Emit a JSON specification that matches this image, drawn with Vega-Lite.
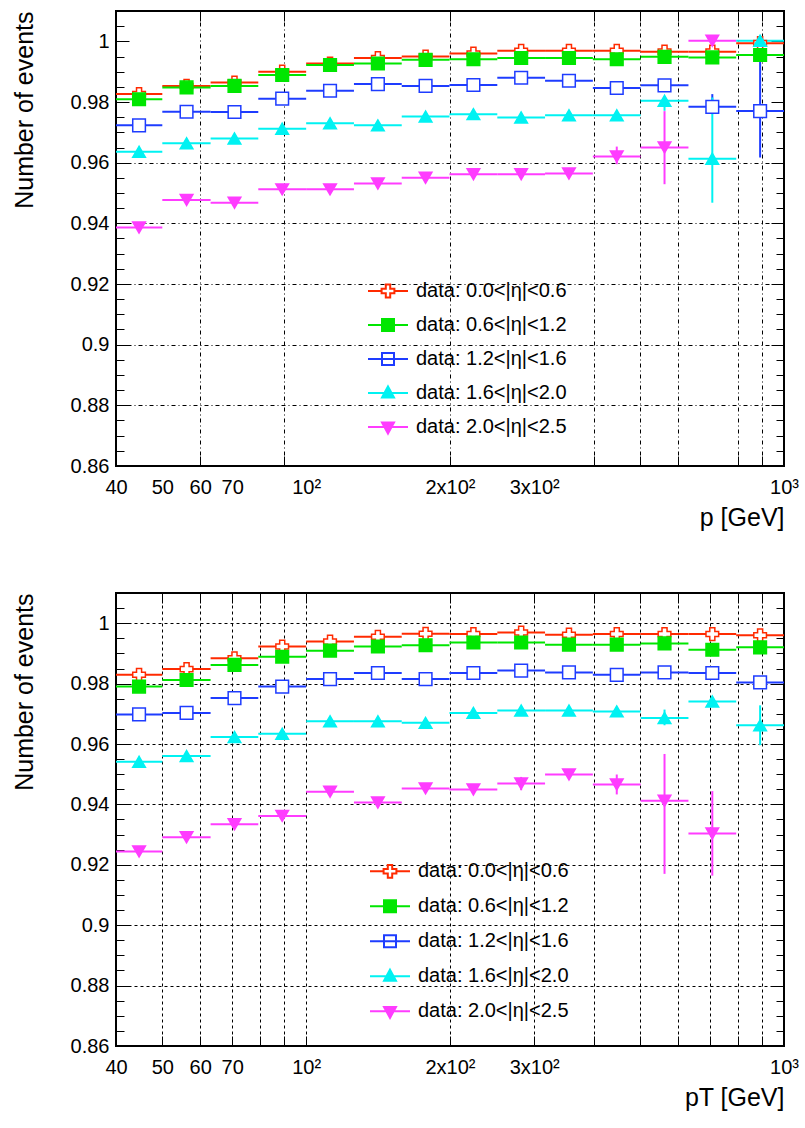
{
"$schema":"https://vega.github.io/schema/vega-lite/v6.json",
"background":"white",
"padding":{"left":11,"top":9,"right":5,"bottom":5},
"bounds":"flush",
"spacing":127,
"datasets":{
"top":[
{"x0":40,"x1":50,"x":44.7,"s1":0.9826,"s2":0.9809,"s3":0.9723,"s4":0.9636,"s5":0.9386},
{"x0":50,"x1":63.1,"x":56.2,"s1":0.9853,"s2":0.9848,"s3":0.9768,"s4":0.9664,"s5":0.9477},
{"x0":63.1,"x1":79.4,"x":70.8,"s1":0.9864,"s2":0.9853,"s3":0.9767,"s4":0.968,"s5":0.9468},
{"x0":79.4,"x1":100,"x":89.1,"s1":0.99,"s2":0.9889,"s3":0.9811,"s4":0.9712,"s5":0.9512},
{"x0":100,"x1":125.9,"x":112.2,"s1":0.9927,"s2":0.9922,"s3":0.9837,"s4":0.973,"s5":0.9512},
{"x0":125.9,"x1":158.5,"x":141.3,"s1":0.9945,"s2":0.9927,"s3":0.9859,"s4":0.9723,"s5":0.9531},
{"x0":158.5,"x1":199.5,"x":177.8,"s1":0.995,"s2":0.9939,"s3":0.9853,"s4":0.9752,"s5":0.955},
{"x0":199.5,"x1":251.2,"x":223.9,"s1":0.996,"s2":0.9941,"s3":0.9856,"s4":0.976,"s5":0.9562},
{"x0":251.2,"x1":316.2,"x":281.8,"s1":0.9969,"s2":0.9945,"s3":0.988,"s4":0.9749,"s5":0.9562},
{"x0":316.2,"x1":398.1,"x":354.8,"s1":0.9969,"s2":0.9945,"s3":0.987,"s4":0.9756,"s5":0.9564},
{"x0":398.1,"x1":501.2,"x":446.7,"s1":0.9969,"s2":0.9941,"s3":0.9846,"s4":0.9756,"s5":0.962},
{"x0":501.2,"x1":631,"x":562.3,"s1":0.9966,"s2":0.9949,"s3":0.9855,"s4":0.9804,"s5":0.965},
{"x0":631,"x1":794.3,"x":707.9,"s1":0.9966,"s2":0.9947,"s3":0.9784,"s4":0.9613,"s5":1.0002},
{"x0":794.3,"x1":1000,"x":891.3,"s1":0.9994,"s2":0.9955,"s3":0.977,"s4":1.0002,"s5":null}
],
"bot":[
{"x0":40,"x1":50,"x":44.7,"s1":0.9829,"s2":0.979,"s3":0.9698,"s4":0.9541,"s5":0.9244},
{"x0":50,"x1":63.1,"x":56.2,"s1":0.9848,"s2":0.9812,"s3":0.9703,"s4":0.956,"s5":0.9291},
{"x0":63.1,"x1":79.4,"x":70.8,"s1":0.9884,"s2":0.9862,"s3":0.9752,"s4":0.9623,"s5":0.9334},
{"x0":79.4,"x1":100,"x":89.1,"s1":0.9923,"s2":0.9889,"s3":0.979,"s4":0.9634,"s5":0.9362},
{"x0":100,"x1":125.9,"x":112.2,"s1":0.9939,"s2":0.9909,"s3":0.9815,"s4":0.9675,"s5":0.9442},
{"x0":125.9,"x1":158.5,"x":141.3,"s1":0.9955,"s2":0.9923,"s3":0.9835,"s4":0.9675,"s5":0.9406},
{"x0":158.5,"x1":199.5,"x":177.8,"s1":0.9965,"s2":0.9927,"s3":0.9815,"s4":0.967,"s5":0.9453},
{"x0":199.5,"x1":251.2,"x":223.9,"s1":0.9964,"s2":0.9936,"s3":0.9835,"s4":0.9703,"s5":0.9449},
{"x0":251.2,"x1":316.2,"x":281.8,"s1":0.9969,"s2":0.9936,"s3":0.9843,"s4":0.9711,"s5":0.9469},
{"x0":316.2,"x1":398.1,"x":354.8,"s1":0.9962,"s2":0.9929,"s3":0.9837,"s4":0.9711,"s5":0.9499},
{"x0":398.1,"x1":501.2,"x":446.7,"s1":0.9964,"s2":0.9929,"s3":0.9829,"s4":0.9708,"s5":0.9466},
{"x0":501.2,"x1":631,"x":562.3,"s1":0.9964,"s2":0.9933,"s3":0.9837,"s4":0.9686,"s5":0.9412},
{"x0":631,"x1":794.3,"x":707.9,"s1":0.9964,"s2":0.9912,"s3":0.9835,"s4":0.9741,"s5":0.9304},
{"x0":794.3,"x1":1000,"x":891.3,"s1":0.996,"s2":0.992,"s3":0.9804,"s4":0.9662,"s5":null}
],
"topErr":[
{"s":"s3","x":891.3,"lo":0.9617,"hi":0.9991},
{"s":"s3","x":707.9,"lo":0.976,"hi":0.9826},
{"s":"s4","x":707.9,"lo":0.9468,"hi":0.9815},
{"s":"s4","x":562.3,"lo":0.9771,"hi":0.9815},
{"s":"s4","x":891.3,"lo":0.998,"hi":1.0013},
{"s":"s5","x":562.3,"lo":0.9529,"hi":0.977},
{"s":"s5","x":446.7,"lo":0.9595,"hi":0.9653}
],
"botErr":[
{"s":"s5","x":281.8,"lo":0.9447,"hi":0.9491},
{"s":"s5","x":446.7,"lo":0.9433,"hi":0.9499},
{"s":"s5","x":562.3,"lo":0.917,"hi":0.9567},
{"s":"s5","x":707.9,"lo":0.9164,"hi":0.9444},
{"s":"s4","x":562.3,"lo":0.9662,"hi":0.9714},
{"s":"s4","x":891.3,"lo":0.9596,"hi":0.9728}
]
},
"vconcat":[
{
"width":668,"height":455,
"layer":[
{"data":{"name":"top"},
 "transform":[{"fold":["s1","s2","s3","s4","s5"],"as":["s","v"]},{"filter":"datum.v != null"}],
 "mark":{"type":"rule","strokeWidth":2},
 "encoding":{
  "x":{"field":"x0","type":"quantitative","scale":{"type":"log","domain":[40,1000],"nice":false},
   "axis":{"orient":"bottom","values":[40,50,60,70,80,90,100,200,300,400,500,600,700,800,900,1000],
    "labelExpr":"datum.value==40?'40':datum.value==50?'50':datum.value==60?'60':datum.value==70?'70':datum.value==100?'10²':datum.value==200?'2x10²':datum.value==300?'3x10²':datum.value==1000?'10³':''",
    "labelOverlap":false,"labelFlush":false,"tickSize":-10,"labelPadding":21,"tickColor":"black",
    "tickOpacity":{"condition":{"test":"indexof([60,90,200,400,500,600,800,900], datum.value) >= 0","value":1},"value":0},
    "grid":true,"gridColor":"black","gridDash":[4,3,1,3],"gridWidth":1,
    "gridOpacity":{"condition":{"test":"indexof([60,90,200,400,500,600,800,900], datum.value) >= 0","value":1},"value":0},
    "domain":false,"title":"p   [GeV]","titleAnchor":"end","titlePadding":8}},
  "x2":{"field":"x1"},
  "y":{"field":"v","type":"quantitative","scale":{"domain":[0.86,1.01],"nice":false,"zero":false},
   "axis":{"orient":"left","values":[0.86,0.865,0.87,0.875,0.88,0.885,0.89,0.895,0.9,0.905,0.91,0.915,0.92,0.925,0.93,0.935,0.94,0.945,0.95,0.955,0.96,0.965,0.97,0.975,0.98,0.985,0.99,0.995,1,1.005],
    "labelExpr":"abs(datum.value*50-round(datum.value*50))<0.01 ? format(datum.value,'.2~f') : ''",
    "tickSize":{"condition":{"test":"abs(datum.value*50-round(datum.value*50))<0.01","value":-13},"value":-8},
    "labelPadding":20,"tickColor":"black",
    "grid":true,"gridColor":"black","gridDash":[4,3,1,3],"gridWidth":1,
    "gridOpacity":{"condition":{"test":"datum.value>0.875 && datum.value<0.965 && abs(datum.value*50-round(datum.value*50))<0.01","value":1},"value":0},
    "domain":false,"title":"Number of events","titleAnchor":"end","titlePadding":33}},
  "color":{"field":"s","type":"nominal","scale":{"domain":["s1","s2","s3","s4","s5"],"range":["#ff2a00","#00e600","#1e3cff","#00f2f2","#ff3cff"]},"legend":null}
 }},
{"data":{"name":"topErr"},
 "mark":{"type":"rule","strokeWidth":2},
 "encoding":{
  "x":{"field":"x","type":"quantitative","axis":{"orient":"top","values":[40,50,60,70,80,90,100,200,300,400,500,600,700,800,900,1000],"labels":false,"tickSize":-10,"tickColor":"black",
    "tickOpacity":{"condition":{"test":"indexof([60,90,200,400,500,600,800,900], datum.value) >= 0","value":1},"value":0},"grid":false,"domain":false,"title":null}},
  "y":{"field":"lo","type":"quantitative","axis":{"orient":"right","values":[0.86,0.865,0.87,0.875,0.88,0.885,0.89,0.895,0.9,0.905,0.91,0.915,0.92,0.925,0.93,0.935,0.94,0.945,0.95,0.955,0.96,0.965,0.97,0.975,0.98,0.985,0.99,0.995,1,1.005],
    "labels":false,"tickColor":"black","tickSize":{"condition":{"test":"abs(datum.value*50-round(datum.value*50))<0.01","value":-13},"value":-8},"grid":false,"domain":false,"title":null}},
  "y2":{"field":"hi"},
  "color":{"field":"s","type":"nominal","scale":{"domain":["s1","s2","s3","s4","s5"],"range":["#ff2a00","#00e600","#1e3cff","#00f2f2","#ff3cff"]},"legend":null}
 }},
{"data":{"name":"top"},
 "transform":[{"fold":["s1","s2","s3","s4","s5"],"as":["s","v"]},{"filter":"datum.v != null"}],
 "mark":{"type":"point","filled":false,"strokeWidth":1.5,"size":160,"opacity":1},
 "encoding":{
  "x":{"field":"x","type":"quantitative","axis":null},
  "y":{"field":"v","type":"quantitative","axis":null},
  "color":{"field":"s","type":"nominal","scale":{"domain":["s1","s2","s3","s4","s5"],"range":["#ff2a00","#00e600","#1e3cff","#00f2f2","#ff3cff"]},"legend":null},
  "fill":{"field":"s","type":"nominal","scale":{"domain":["s1","s2","s3","s4","s5"],"range":["#ffffff","#00e600","#ffffff","#00f2f2","#ff3cff"]},"legend":null},
  "shape":{"field":"s","type":"nominal","scale":{"domain":["s1","s2","s3","s4","s5"],"range":["cross","square","square","triangle-up","triangle-down"]},"legend":null}
 }},
{"data":{"name":"top"},
 "transform":[{"fold":["s1","s2","s3","s4","s5"],"as":["s","v"]},{"filter":"datum.v != null"}],
 "mark":{"type":"point","filled":false,"strokeWidth":2,"opacity":0},
 "encoding":{
  "x":{"field":"x","type":"quantitative","axis":null},
  "y":{"field":"v","type":"quantitative","axis":null},
  "color":{"field":"s","type":"nominal","scale":{"domain":["s1","s2","s3","s4","s5"],"range":["#ff2a00","#00e600","#1e3cff","#00f2f2","#ff3cff"]},
   "legend":{"orient":"none","legendX":251,"legendY":263,"title":null,"symbolSize":1600,"symbolStrokeWidth":2,"symbolOpacity":1,"clipHeight":34,"rowPadding":0,"labelOffset":7,"padding":0,
    "labelExpr":"datum.label=='s1'?'data: 0.0<|η|<0.6':datum.label=='s2'?'data: 0.6<|η|<1.2':datum.label=='s3'?'data: 1.2<|η|<1.6':datum.label=='s4'?'data: 1.6<|η|<2.0':'data: 2.0<|η|<2.5'"}},
  "fill":{"field":"s","type":"nominal","scale":{"domain":["s1","s2","s3","s4","s5"],"range":["#ffffff","#00e600","#ffffff","#00f2f2","#ff3cff"]}},
  "shape":{"field":"s","type":"nominal","scale":{"domain":["s1","s2","s3","s4","s5"],"range":[
   "M-1,0H-0.32M0.32,0H1M-0.11,-0.32H0.11V-0.11H0.32V0.11H0.11V0.32H-0.11V0.11H-0.32V-0.11H-0.11Z",
   "M-1,0H1M-0.3,-0.3H0.3V0.3H-0.3Z",
   "M-1,0H1M-0.3,-0.3H0.3V0.3H-0.3Z",
   "M-1,0H1M0,-0.33L0.3,0.22H-0.3Z",
   "M-1,0H1M0,0.33L0.3,-0.22H-0.3Z"]}}
 }}
],
"resolve":{"axis":{"x":"independent","y":"independent"},"scale":{"color":"independent","fill":"independent","shape":"independent"}}
},
{
"width":668,"height":453,
"layer":[
{"data":{"name":"bot"},
 "transform":[{"fold":["s1","s2","s3","s4","s5"],"as":["s","v"]},{"filter":"datum.v != null"}],
 "mark":{"type":"rule","strokeWidth":2},
 "encoding":{
  "x":{"field":"x0","type":"quantitative","scale":{"type":"log","domain":[40,1000],"nice":false},
   "axis":{"orient":"bottom","values":[40,50,60,70,80,90,100,200,300,400,500,600,700,800,900,1000],
    "labelExpr":"datum.value==40?'40':datum.value==50?'50':datum.value==60?'60':datum.value==70?'70':datum.value==100?'10²':datum.value==200?'2x10²':datum.value==300?'3x10²':datum.value==1000?'10³':''",
    "labelOverlap":false,"labelFlush":false,"tickSize":-10,"labelPadding":21,"tickColor":"black",
    "grid":true,"gridColor":"black","gridDash":[3,3],"gridWidth":1,
    "gridOpacity":{"condition":{"test":"datum.value>40 && datum.value<1000","value":1},"value":0},
    "domain":false,"title":"pT [GeV]","titleAnchor":"end","titlePadding":8}},
  "x2":{"field":"x1"},
  "y":{"field":"v","type":"quantitative","scale":{"domain":[0.86,1.01],"nice":false,"zero":false},
   "axis":{"orient":"left","values":[0.86,0.865,0.87,0.875,0.88,0.885,0.89,0.895,0.9,0.905,0.91,0.915,0.92,0.925,0.93,0.935,0.94,0.945,0.95,0.955,0.96,0.965,0.97,0.975,0.98,0.985,0.99,0.995,1,1.005],
    "labelExpr":"abs(datum.value*50-round(datum.value*50))<0.01 ? format(datum.value,'.2~f') : ''",
    "tickSize":{"condition":{"test":"abs(datum.value*50-round(datum.value*50))<0.01","value":-13},"value":-8},
    "labelPadding":20,"tickColor":"black",
    "grid":true,"gridColor":"black","gridDash":[3,3],"gridWidth":1,
    "gridOpacity":{"condition":{"test":"datum.value>0.875 && datum.value<1.005 && abs(datum.value*50-round(datum.value*50))<0.01","value":1},"value":0},
    "domain":false,"title":"Number of events","titleAnchor":"end","titlePadding":33}},
  "color":{"field":"s","type":"nominal","scale":{"domain":["s1","s2","s3","s4","s5"],"range":["#ff2a00","#00e600","#1e3cff","#00f2f2","#ff3cff"]},"legend":null}
 }},
{"data":{"name":"botErr"},
 "mark":{"type":"rule","strokeWidth":2},
 "encoding":{
  "x":{"field":"x","type":"quantitative","axis":{"orient":"top","values":[40,50,60,70,80,90,100,200,300,400,500,600,700,800,900,1000],"labels":false,"tickSize":-10,"tickColor":"black","grid":false,"domain":false,"title":null}},
  "y":{"field":"lo","type":"quantitative","axis":{"orient":"right","values":[0.86,0.865,0.87,0.875,0.88,0.885,0.89,0.895,0.9,0.905,0.91,0.915,0.92,0.925,0.93,0.935,0.94,0.945,0.95,0.955,0.96,0.965,0.97,0.975,0.98,0.985,0.99,0.995,1,1.005],
    "labels":false,"tickColor":"black","tickSize":{"condition":{"test":"abs(datum.value*50-round(datum.value*50))<0.01","value":-13},"value":-8},"grid":false,"domain":false,"title":null}},
  "y2":{"field":"hi"},
  "color":{"field":"s","type":"nominal","scale":{"domain":["s1","s2","s3","s4","s5"],"range":["#ff2a00","#00e600","#1e3cff","#00f2f2","#ff3cff"]},"legend":null}
 }},
{"data":{"name":"bot"},
 "transform":[{"fold":["s1","s2","s3","s4","s5"],"as":["s","v"]},{"filter":"datum.v != null"}],
 "mark":{"type":"point","filled":false,"strokeWidth":1.5,"size":160,"opacity":1},
 "encoding":{
  "x":{"field":"x","type":"quantitative","axis":null},
  "y":{"field":"v","type":"quantitative","axis":null},
  "color":{"field":"s","type":"nominal","scale":{"domain":["s1","s2","s3","s4","s5"],"range":["#ff2a00","#00e600","#1e3cff","#00f2f2","#ff3cff"]},"legend":null},
  "fill":{"field":"s","type":"nominal","scale":{"domain":["s1","s2","s3","s4","s5"],"range":["#ffffff","#00e600","#ffffff","#00f2f2","#ff3cff"]},"legend":null},
  "shape":{"field":"s","type":"nominal","scale":{"domain":["s1","s2","s3","s4","s5"],"range":["cross","square","square","triangle-up","triangle-down"]},"legend":null}
 }},
{"data":{"name":"bot"},
 "transform":[{"fold":["s1","s2","s3","s4","s5"],"as":["s","v"]},{"filter":"datum.v != null"}],
 "mark":{"type":"point","filled":false,"strokeWidth":2,"opacity":0},
 "encoding":{
  "x":{"field":"x","type":"quantitative","axis":null},
  "y":{"field":"v","type":"quantitative","axis":null},
  "color":{"field":"s","type":"nominal","scale":{"domain":["s1","s2","s3","s4","s5"],"range":["#ff2a00","#00e600","#1e3cff","#00f2f2","#ff3cff"]},
   "legend":{"orient":"none","legendX":253,"legendY":261,"title":null,"symbolSize":1600,"symbolStrokeWidth":2,"symbolOpacity":1,"clipHeight":34.6,"rowPadding":0,"labelOffset":7,"padding":0,
    "labelExpr":"datum.label=='s1'?'data: 0.0<|η|<0.6':datum.label=='s2'?'data: 0.6<|η|<1.2':datum.label=='s3'?'data: 1.2<|η|<1.6':datum.label=='s4'?'data: 1.6<|η|<2.0':'data: 2.0<|η|<2.5'"}},
  "fill":{"field":"s","type":"nominal","scale":{"domain":["s1","s2","s3","s4","s5"],"range":["#ffffff","#00e600","#ffffff","#00f2f2","#ff3cff"]}},
  "shape":{"field":"s","type":"nominal","scale":{"domain":["s1","s2","s3","s4","s5"],"range":[
   "M-1,0H-0.32M0.32,0H1M-0.11,-0.32H0.11V-0.11H0.32V0.11H0.11V0.32H-0.11V0.11H-0.32V-0.11H-0.11Z",
   "M-1,0H1M-0.3,-0.3H0.3V0.3H-0.3Z",
   "M-1,0H1M-0.3,-0.3H0.3V0.3H-0.3Z",
   "M-1,0H1M0,-0.33L0.3,0.22H-0.3Z",
   "M-1,0H1M0,0.33L0.3,-0.22H-0.3Z"]}}
 }}
],
"resolve":{"axis":{"x":"independent","y":"independent"},"scale":{"color":"independent","fill":"independent","shape":"independent"}}
}
],
"config":{
 "view":{"stroke":"black","strokeWidth":2,"fill":"white"},
 "axis":{"labelFont":"Liberation Sans","labelFontSize":20,"labelColor":"black","titleFont":"Liberation Sans","titleFontSize":25,"titleFontWeight":"normal","titleColor":"black"},
 "legend":{"labelFont":"Liberation Sans","labelFontSize":20,"labelColor":"black","labelBaseline":"middle"}
}
}
